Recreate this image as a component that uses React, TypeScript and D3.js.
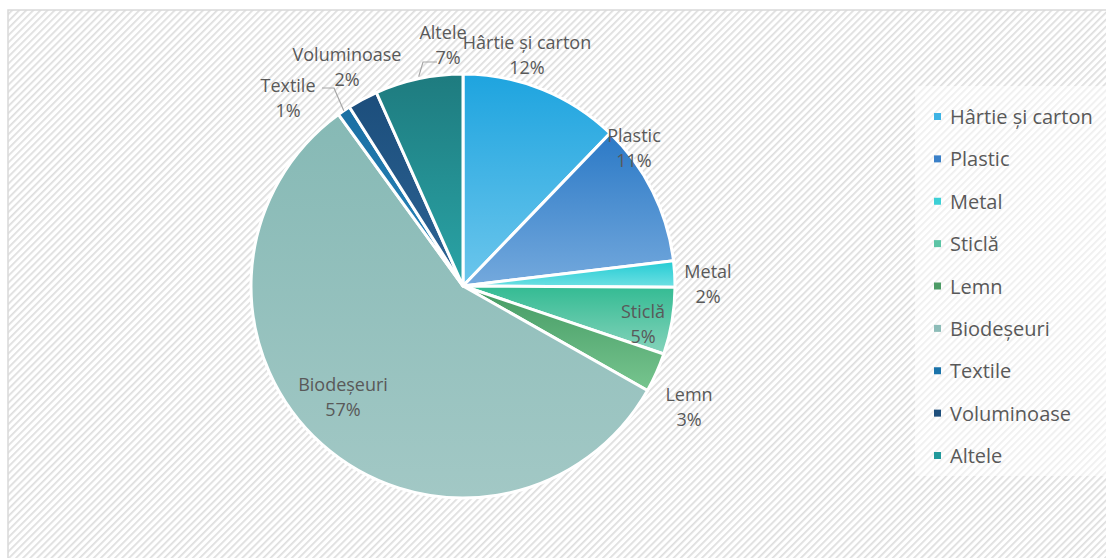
import React from "react";
import * as d3 from "d3";

const categories = ["Hârtie și carton", "Plastic", "Metal", "Sticlă", "Lemn", "Biodeșeuri", "Textile", "Voluminoase", "Altele"];
const values = [12.2, 10.9, 2.0, 5.1, 3.0, 56.8, 1.0, 2.3, 6.7];
const colorTop = ["#1ea4df", "#2b79c6", "#22cbd3", "#33bb93", "#449a63", "#86b9b5", "#1a6fa3", "#1c4e7c", "#1e7b7f"];
const colorBottom = ["#6cc6ec", "#74a9dd", "#6fe0e3", "#86d3bb", "#77c58f", "#a2c8c5", "#2a86bb", "#2d6494", "#2aa4a6"];
const legendColors = ["#3eb3e4", "#3a80c8", "#3cd0d6", "#5cc4a5", "#4d9b66", "#8dbcb8", "#1a73aa", "#1e4f7c", "#22999b"];
// label layout offsets relative to pie centre (px)
const labelOffsets: [number, number][] = [[64, -231], [171, -138], [245, -2], [180, 38], [226, 121], [-120, 111], [-175, -188], [-116, -219], [-20, -241]];

const W = 1106, H = 558;
const cx = 463, cy = 286, R = 212;
const FONT = "'Open Sans', Lato, sans-serif";

export default function App() {
  const pie = d3.pie<number>().sort(null).value((d) => d);
  const arcs = pie(values);
  const arc = d3.arc<d3.PieArcDatum<number>>().innerRadius(0).outerRadius(R);
  const total = d3.sum(values);
  const legendY = d3.scalePoint<string>().domain(categories).range([117, 456]);

  const edgePoint = (a: d3.PieArcDatum<number>) => {
    const m = (a.startAngle + a.endAngle) / 2;
    return [cx + R * Math.sin(m), cy - R * Math.cos(m)];
  };

  return (
    <svg width={W} height={H} style={{ position: "absolute", left: 0, top: 0 }} fontFamily={FONT}>
      <defs>
        <pattern id="hatch" width="5" height="5" patternUnits="userSpaceOnUse" patternTransform="rotate(-45)">
          <rect width="5" height="5" fill="#ffffff" />
          <rect width="5" height="1.7" fill="#dedede" />
        </pattern>
        {categories.map((c, i) => (
          <linearGradient key={c} id={`g${i}`} x1="0" y1="0" x2="0" y2="1">
            <stop offset="0" stopColor={colorTop[i]} />
            <stop offset="1" stopColor={colorBottom[i]} />
          </linearGradient>
        ))}
      </defs>
      <rect x={0} y={0} width={W} height={H} fill="#ffffff" />
      <rect x={8} y={10} width={W + 10} height={H + 10} fill="url(#hatch)" stroke="#d9d9d9" strokeWidth={1.5} />
      <rect x={915} y={86} width={191} height={390} fill="#ffffff" opacity={0.5} />
      <g transform={`translate(${cx},${cy})`}>
        {arcs.map((a, i) => (
          <path key={i} d={arc(a) || ""} fill={`url(#g${i})`} stroke="#ffffff" strokeWidth={3} strokeLinejoin="round" />
        ))}
      </g>
      {/* leader lines */}
      {[6, 8].map((i) => {
        const [ex, ey] = edgePoint(arcs[i]);
        const lx = cx + labelOffsets[i][0];
        const ly = cy + labelOffsets[i][1];
        const pts = i === 6
          ? [[lx + 34, ly - 10], [lx + 46, ly - 10], [ex, ey]]
          : [[lx - 6, ly + 17], [lx - 20, ly + 17], [ex, ey - 2]];
        return <polyline key={i} points={pts.map((p) => p.join(",")).join(" ")} fill="none" stroke="#a6a6a6" strokeWidth={1.2} />;
      })}
      {arcs.map((a, i) => {
        const x = cx + labelOffsets[i][0];
        const y = cy + labelOffsets[i][1];
        const pct = Math.round((values[i] / total) * 100) + "%";
        return (
          <g key={i} fill="#595959" fontSize={18} textAnchor="middle">
            <text x={x} y={y - 6}>{categories[i]}</text>
            <text x={x + (i === 8 ? 5 : 0)} y={y + 19}>{pct}</text>
          </g>
        );
      })}
      {categories.map((c, i) => (
        <g key={c} transform={`translate(934,${legendY(c)})`}>
          <rect x={0} y={-4} width={7} height={7} fill={legendColors[i]} />
          <text x={16} y={7} fontSize={20} fill="#595959">{c}</text>
        </g>
      ))}
    </svg>
  );
}
